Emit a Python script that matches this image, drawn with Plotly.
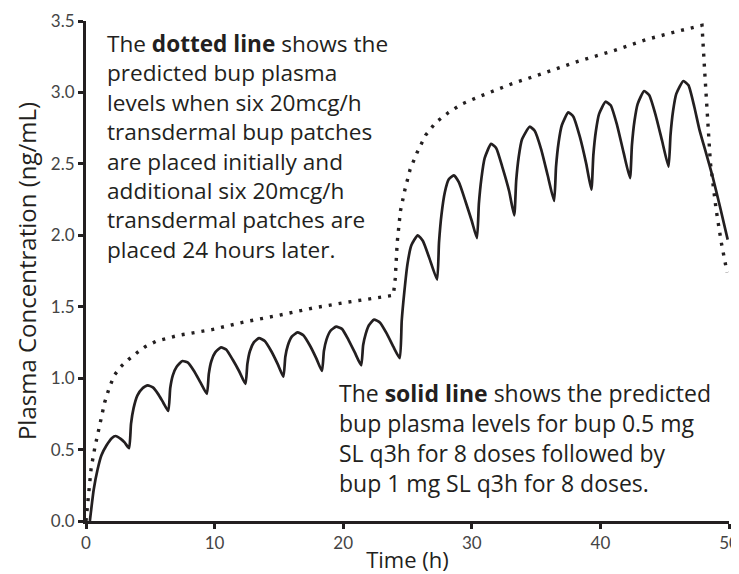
import plotly.graph_objects as go

# Solid line: bup SL q3h (0.5 mg x8 then 1 mg x8)
solid_t = [0.3, 0.6, 0.9, 1.2, 1.6, 2.0, 2.3, 2.7, 3.0, 3.35,
           3.5, 3.7, 4.0, 4.4, 4.8, 5.2, 5.6, 6.0, 6.4,
           6.55, 6.75, 7.05, 7.5, 7.9, 8.4, 8.9, 9.4,
           9.55, 9.75, 10.05, 10.5, 10.9, 11.4, 11.9, 12.4,
           12.55, 12.75, 13.05, 13.45, 13.9, 14.4, 14.9, 15.35,
           15.5, 15.7, 16.0, 16.45, 16.9, 17.4, 17.9, 18.35,
           18.5, 18.7, 19.0, 19.45, 19.9, 20.4, 20.9, 21.4,
           21.55, 21.75, 22.0, 22.4, 22.85, 23.4, 23.9, 24.4,
           24.55, 24.75, 25.0, 25.3, 25.8, 26.2, 26.7, 27.3,
           27.45, 27.65, 27.9, 28.2, 28.6, 29.0, 29.5, 30.0, 30.4,
           30.55, 30.75, 31.0, 31.5, 31.9, 32.4, 32.9, 33.3,
           33.45, 33.65, 33.9, 34.5, 34.9, 35.4, 35.9, 36.4,
           36.55, 36.75, 37.0, 37.5, 37.9, 38.4, 38.9, 39.3,
           39.45, 39.65, 39.9, 40.4, 40.8, 41.3, 41.8, 42.3,
           42.45, 42.65, 42.9, 43.4, 43.8, 44.3, 44.8, 45.3,
           45.45, 45.65, 45.9, 46.45, 46.85, 47.3, 47.7, 48.2, 48.7, 49.3, 49.9]
solid_c = [0.0, 0.22, 0.36, 0.46, 0.53, 0.58, 0.595, 0.575, 0.55, 0.51,
           0.68, 0.79, 0.88, 0.93, 0.95, 0.935, 0.89, 0.83, 0.77,
           0.93, 1.02, 1.08, 1.12, 1.11, 1.05, 0.97, 0.89,
           1.03, 1.12, 1.18, 1.215, 1.2, 1.13, 1.05, 0.96,
           1.1, 1.19, 1.25, 1.28, 1.26, 1.19, 1.1, 1.01,
           1.15, 1.23, 1.29, 1.32, 1.3, 1.23, 1.14, 1.05,
           1.19, 1.27, 1.33, 1.36, 1.345, 1.27, 1.18, 1.09,
           1.23, 1.31, 1.37, 1.41, 1.39, 1.31, 1.22, 1.14,
           1.4, 1.6, 1.8, 1.93, 2.0, 1.96, 1.84, 1.69,
           1.95, 2.15, 2.3, 2.39, 2.42, 2.37, 2.24, 2.1, 1.98,
           2.22, 2.4, 2.54, 2.64, 2.61, 2.47, 2.31, 2.14,
           2.38, 2.55, 2.67, 2.76, 2.73, 2.6, 2.42, 2.24,
           2.48, 2.65, 2.77, 2.86, 2.83, 2.69, 2.5, 2.32,
           2.56, 2.73, 2.85, 2.935, 2.91, 2.77, 2.58, 2.40,
           2.63, 2.8, 2.92, 3.01, 2.98, 2.84, 2.66, 2.48,
           2.7, 2.87, 2.99, 3.08, 3.05, 2.9, 2.74, 2.58, 2.42, 2.2, 1.97]

# Dotted line: transdermal bup patches
dotted_t = [0.0, 0.15, 0.4, 0.7, 0.95, 1.2, 1.45, 1.8, 2.2, 2.7, 3.3, 4.0, 4.6, 5.5,
            7.2, 9.8, 12.4, 15.0, 17.6, 20.2, 22.8, 23.9,
            24.05, 24.2, 24.45, 24.8, 25.2, 25.75, 26.4, 27.2, 28.2, 29.25, 30.55,
            33.1, 35.75, 38.35, 40.95, 43.55, 46.1, 47.9,
            48.1, 48.35, 48.55, 49.0, 49.4, 49.85]
dotted_c = [0.0, 0.15, 0.37, 0.52, 0.62, 0.73, 0.83, 0.93, 1.02, 1.08, 1.13, 1.18, 1.22, 1.26,
            1.30, 1.34, 1.395, 1.44, 1.49, 1.53, 1.565, 1.58,
            1.7, 1.95, 2.17, 2.32, 2.46, 2.58, 2.70, 2.79, 2.86, 2.92, 2.97,
            3.06, 3.14, 3.22, 3.29, 3.37, 3.43, 3.47,
            3.16, 2.76, 2.51, 2.18, 1.95, 1.74]

x_ticks = [0, 10, 20, 30, 40, 50]
y_ticks = [0.0, 0.5, 1.0, 1.5, 2.0, 2.5, 3.0, 3.5]
y_tick_text = ["0.0", "0.5", "1.0", "1.5", "2.0", "2.5", "3.0", "3.5"]

ink = "#231f20"
font_text = "'Open Sans', sans-serif"
font_tick = "Lato, sans-serif"

fig = go.Figure()
fig.add_trace(go.Scatter(x=dotted_t, y=dotted_c, mode="lines",
                         line=dict(color=ink, width=3.4, dash="3px,7px"),
                         hoverinfo="skip", showlegend=False))
fig.add_trace(go.Scatter(x=solid_t, y=solid_c, mode="lines",
                         line=dict(color=ink, width=2.7, shape="spline", smoothing=0.5),
                         hoverinfo="skip", showlegend=False))

fig.add_annotation(xref="paper", yref="paper", x=0.0295, y=0.99,
                   xanchor="left", yanchor="top", align="left", showarrow=False,
                   text=("The <b>dotted line</b> shows the<br>predicted bup plasma<br>"
                         "levels when six 20mcg/h<br>transdermal bup patches<br>"
                         "are placed initially and<br>additional six 20mcg/h<br>"
                         "transdermal patches are<br>placed 24 hours later."),
                   font=dict(family=font_text, size=22.6, color=ink))
fig.add_annotation(xref="paper", yref="paper", x=0.390, y=0.292,
                   xanchor="left", yanchor="top", align="left", showarrow=False,
                   text=("The <b>solid line</b> shows the predicted<br>"
                         "bup plasma levels for bup 0.5 mg<br>"
                         "SL q3h for 8 doses followed by<br>"
                         "bup 1 mg SL q3h for 8 doses."),
                   font=dict(family=font_text, size=23, color=ink))

fig.update_layout(
    width=739, height=574,
    margin=dict(l=78, r=18, t=13, b=61),
    plot_bgcolor="white", paper_bgcolor="white",
    font=dict(family=font_text, color=ink),
)
fig.update_xaxes(range=[0, 50], tickvals=x_ticks, showgrid=False, zeroline=False,
                 showline=True, linecolor=ink, linewidth=3, automargin=False,
                 ticks="outside", ticklen=5, tickwidth=2.5, tickcolor=ink,
                 tickfont=dict(family=font_tick, size=17, color="#444"),
                 title=dict(text="Time (h)", font=dict(size=22, color=ink), standoff=1))
fig.update_yaxes(range=[0, 3.5], tickvals=y_ticks, ticktext=y_tick_text, showgrid=False,
                 zeroline=False, showline=True, linecolor=ink, linewidth=3, automargin=False,
                 ticks="outside", ticklen=5, tickwidth=2.5, tickcolor=ink,
                 tickfont=dict(family=font_tick, size=17, color="#444"),
                 title=dict(text="Plasma Concentration (ng/mL)", font=dict(size=24, color=ink), standoff=8))

fig.write_html("out.html")
